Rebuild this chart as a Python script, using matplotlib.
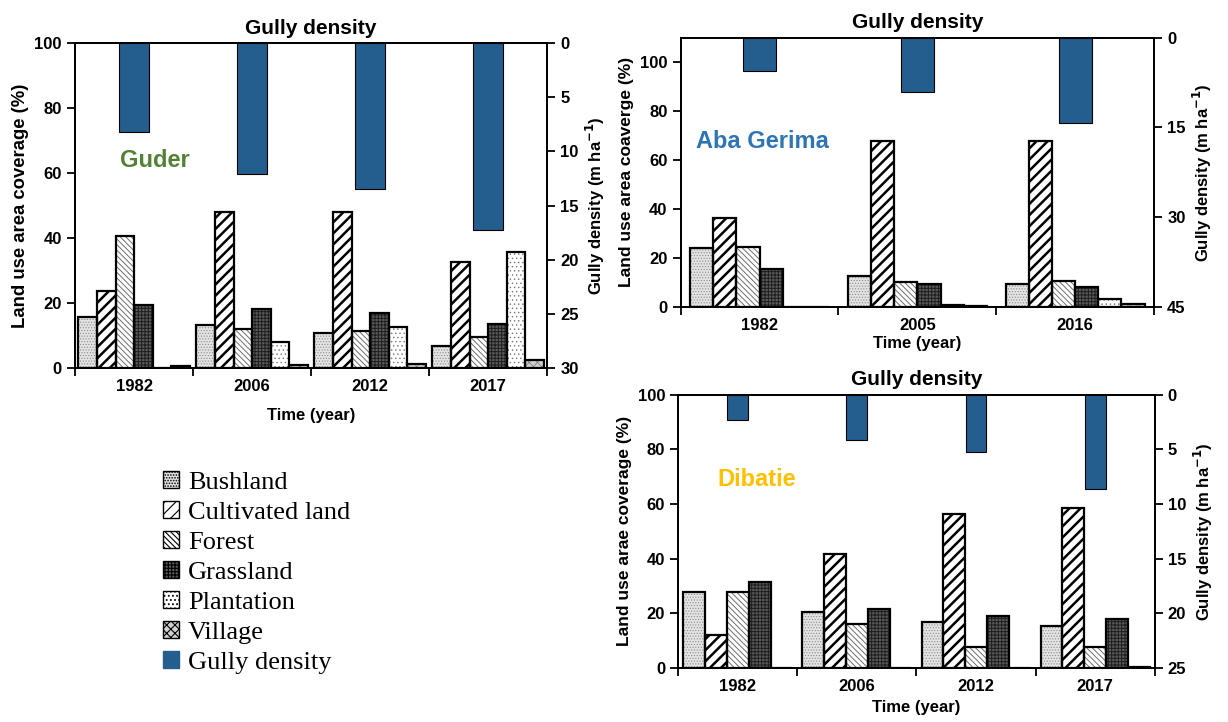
import numpy as np
import matplotlib
matplotlib.use("Agg")
import matplotlib.pyplot as plt
from matplotlib.patches import Patch

plt.rcParams['font.family'] = ['Liberation Sans', 'DejaVu Sans']
plt.rcParams['font.weight'] = 'bold'
plt.rcParams['axes.labelweight'] = 'bold'
plt.rcParams['axes.titleweight'] = 'bold'
plt.rcParams['hatch.linewidth'] = 0.8

# ---- data ----
land_classes = ["Bushland", "Cultivated land", "Forest", "Grassland",
                "Plantation", "Village"]

guder_years = ["1982", "2006", "2012", "2017"]
guder_bushland = [15.6, 13.2, 10.7, 6.8]
guder_cultivated = [23.8, 48.1, 48.1, 32.7]
guder_forest = [40.7, 11.9, 11.3, 9.5]
guder_grassland = [19.3, 18.1, 16.9, 13.6]
guder_plantation = [0.0, 8.0, 12.5, 35.6]
guder_village = [0.6, 0.8, 1.2, 2.5]
guder_gully = [8.2, 12.1, 13.5, 17.3]

aba_years = ["1982", "2005", "2016"]
aba_bushland = [24.3, 12.5, 9.3]
aba_cultivated = [36.5, 67.6, 68.0]
aba_forest = [24.7, 10.4, 10.8]
aba_grassland = [15.4, 9.3, 8.2]
aba_plantation = [0.0, 1.0, 3.3]
aba_village = [0.0, 0.5, 1.4]
aba_gully = [5.5, 9.0, 14.3]

dib_years = ["1982", "2006", "2012", "2017"]
dib_bushland = [27.9, 20.4, 16.7, 15.2]
dib_cultivated = [12.2, 41.7, 56.2, 58.5]
dib_forest = [27.7, 16.0, 7.6, 7.6]
dib_grassland = [31.6, 21.7, 19.1, 17.8]
dib_plantation = [0.0, 0.0, 0.0, 0.5]
dib_gully = [2.3, 4.15, 5.2, 8.6]

# ---- styles: (face, hatch, hatch colour, hatch lw) ----
styles = {
    "Bushland": ("#e3e3e3", "......", "#8c8c8c", 0.5),
    "Cultivated land": ("white", "///", "black", 1.8),
    "Forest": ("white", "\\\\\\\\\\\\", "#6e6e6e", 0.7),
    "Grassland": ("#5a5a5a", "+++++", "#1e1e1e", 0.7),
    "Plantation": ("white", "....", "#777777", 0.5),
    "Village": ("#d0d0d0", "xxxx", "#7a7a7a", 0.5),
}
gully_color = "#245E8F"


def hatched_bar(ax, x, h, w, name):
    face, hatch, hcol, hlw = styles[name]
    with plt.rc_context({'hatch.linewidth': hlw}):
        bars = ax.bar(x, h, w, color=face, hatch=hatch, edgecolor=hcol,
                      linewidth=0, zorder=2)
    for b in bars:
        if hasattr(b, "set_hatch_linewidth"):
            b.set_hatch_linewidth(hlw)
    ax.bar(x, h, w, fill=False, edgecolor="black", linewidth=1.6, zorder=3)


def panel(rect, years, series, names, width, gully, gwidth, ymax, gmax,
          rticks, site, site_color, site_pos, ylabel, ylab_size, xlab_pad):
    ax = fig.add_axes(rect)
    n = len(names)
    x = np.arange(len(years))
    for j, (vals, name) in enumerate(zip(series, names)):
        hatched_bar(ax, x + (j - (n - 1) / 2) * width, vals, width, name)
    ax.set_xlim(-0.5, len(years) - 0.5)
    ax.set_ylim(0, ymax)
    ax.set_yticks(np.arange(0, 101, 20))
    ax.set_xticks(np.arange(len(years) + 1) - 0.5)
    ax.set_xticklabels([])
    ax.set_xticks(x, minor=True)
    ax.set_xticklabels(years, minor=True)
    ax.tick_params(axis='x', which='minor', length=0, pad=8, labelsize=12)
    ax.tick_params(axis='x', which='major', length=6, width=1.3, direction='out')
    ax.tick_params(axis='y', length=6, width=1.3, labelsize=12, direction='out')
    ax.set_ylabel(ylabel, fontsize=ylab_size)
    ax.set_xlabel("Time (year)", fontsize=12, labelpad=xlab_pad)
    ax.text(site_pos[0], site_pos[1], site, color=site_color, fontsize=17,
            fontweight='bold', ha='center', va='center', transform=ax.transAxes)
    for s in ax.spines.values():
        s.set_linewidth(1.3)

    ax2 = ax.twinx()
    ax2.bar(x, gully, gwidth, color=gully_color, edgecolor="black",
            linewidth=0.8, zorder=3)
    ax2.set_ylim(gmax, 0)
    ax2.set_yticks(rticks)
    ax2.tick_params(axis='y', length=6, width=1.3, labelsize=12, direction='out')
    ax2.set_ylabel("Gully density (m ha$^{\\mathbf{-1}}$)", fontsize=12)
    ax2.set_title("Gully density", fontsize=15, pad=7)
    for s in ax2.spines.values():
        s.set_linewidth(1.3)
    return ax, ax2


fig = plt.figure(figsize=(12.28, 7.22), dpi=100)

panel([0.0611, 0.4907, 0.3844, 0.4493], guder_years,
      [guder_bushland, guder_cultivated, guder_forest, guder_grassland,
       guder_plantation, guder_village], land_classes, 0.157,
      guder_gully, 0.25, 100, 30, np.arange(0, 31, 5),
      "Guder", "#548235", (0.17, 0.64), "Land use area coverage (%)", 13.3, 10)

panel([0.5543, 0.5748, 0.3854, 0.3730], aba_years,
      [aba_bushland, aba_cultivated, aba_forest, aba_grassland,
       aba_plantation, aba_village], land_classes, 0.147,
      aba_gully, 0.21, 110, 45, [0, 15, 30, 45],
      "Aba Gerima", "#2E75B6", (0.172, 0.613), "Land use area coaverge (%)",
      12.5, 2)

panel([0.5524, 0.0748, 0.3878, 0.3785], dib_years,
      [dib_bushland, dib_cultivated, dib_forest, dib_grassland,
       dib_plantation], land_classes[:5], 0.183,
      dib_gully, 0.176, 100, 25, np.arange(0, 26, 5),
      "Dibatie", "#FFC000", (0.165, 0.688), "Land use arae coverage (%)",
      12.5, 4)

# legend
handles = []
for name in land_classes:
    face, hatch, hcol, hlw = styles[name]
    handles.append(Patch(facecolor=face, hatch=hatch, edgecolor="black",
                         linewidth=1.0, label=name))
handles.append(Patch(facecolor=gully_color, edgecolor=gully_color,
                     label="Gully density"))
fig.legend(handles=handles, loc='upper left', bbox_to_anchor=(0.122, 0.366),
           frameon=False, prop={'family': 'Liberation Serif', 'size': 19,
                                'weight': 'normal'},
           handlelength=0.6, handleheight=0.6, handletextpad=0.35,
           labelspacing=0.28, borderpad=0)

fig.savefig("out.png", dpi=100)
